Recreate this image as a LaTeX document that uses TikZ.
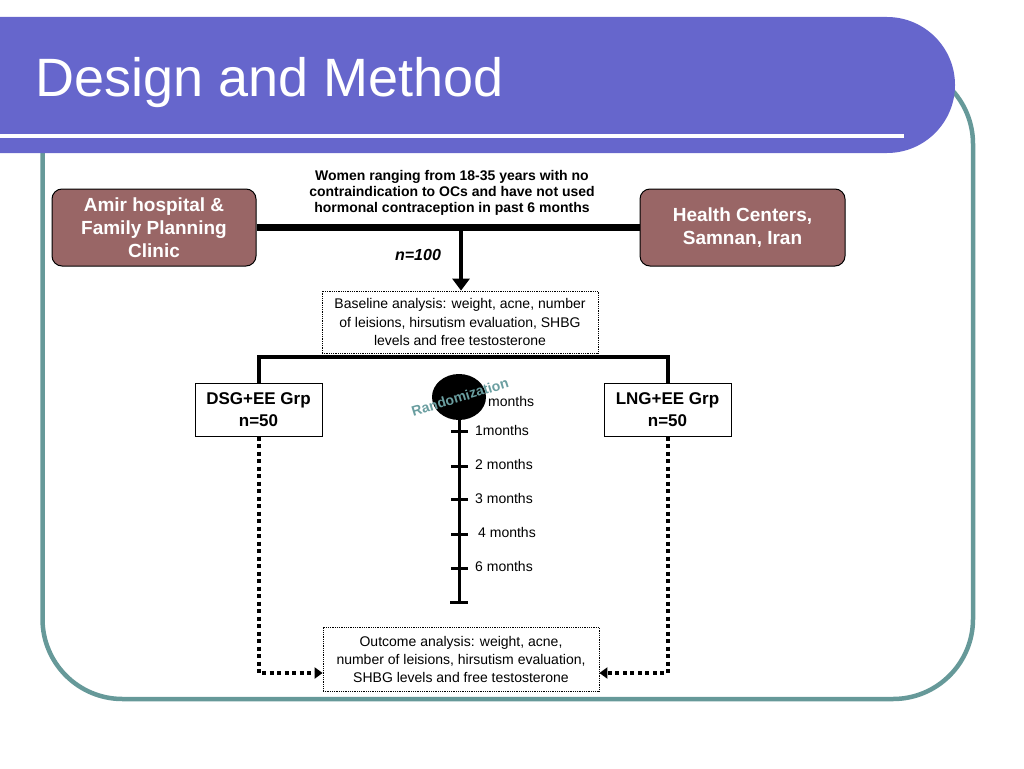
\documentclass[tikz,border=0pt]{standalone}
\usepackage{fontspec}
\setmainfont{Liberation Sans}
\usetikzlibrary{arrows.meta,shapes.geometric}
\definecolor{barblue}{HTML}{6666CC}
\definecolor{frameteal}{HTML}{669999}
\definecolor{boxbrown}{HTML}{996666}
\definecolor{randteal}{HTML}{6A9EA0}
\newcommand\fsz[2]{\fontsize{#1}{#2}\selectfont}
\begin{document}
\begin{tikzpicture}[x=1pt,y=-1pt,
  sitebox/.style={draw=black,line width=1pt,fill=boxbrown,rounded corners=10pt,
    minimum width=204pt,minimum height=77pt,inner sep=0pt,text=white,align=center,
    font=\fsz{19}{23}\bfseries},
  grpbox/.style={draw=black,line width=1pt,fill=white,minimum width=127pt,minimum height=53pt,
    inner sep=0pt,align=center,font=\fsz{17}{22}\bfseries},
  anabox/.style={draw=black,line width=0.8pt,densely dotted,minimum width=276pt,inner sep=0pt,
    align=center,font=\fsz{14}{18.5}},
  thick4/.style={line width=4pt},
  dotconn/.style={line width=4pt,dash pattern=on 4pt off 3.5pt,-{Triangle[length=8pt,width=11pt]}},
  tick/.style={line width=3pt},
  mlabel/.style={anchor=west,inner sep=0pt,font=\fsz{14}{16}}]
\useasboundingbox (0,0) rectangle (1024,768);
% frame
\draw[frameteal,line width=4.5pt,rounded corners=80pt] (42.5,64) rectangle (973,699);
% title bar
\fill[barblue] (0,17) -- (887,17) .. controls (924.5,17) and (955,47.5) .. (955,85)
  .. controls (955,122.5) and (924.5,153) .. (887,153) -- (0,153) -- cycle;
\fill[white] (0,134) rectangle (904,138);
\node[anchor=base west,inner sep=0pt,text=white,font=\fsz{54}{60}] (title) at (35,96) {Design and Method};
% sources
\node[sitebox] (amir) at (154,227.5) {Amir hospital \&\\Family Planning\\Clinic};
\node[sitebox,minimum width=205pt] (health) at (742.5,227.5) {Health Centers,\\Samnan, Iran};
\node[align=center,inner sep=0pt,font=\fsz{14}{16}\bfseries] (women) at (452,193)
  {Women ranging from 18-35 years with no\\contraindication to OCs and have not used\\hormonal contraception in past 6 months};
\draw[line width=7pt] (amir.east) -- (health.west);
\coordinate (split) at (461,231);
\node[anchor=center,inner sep=0pt,font=\fsz{16}{18}\bfseries\itshape] (n100) at (418,255) {n=100};
\node[anchor=center,anabox,minimum height=62pt] (base) at (460,322)
  {Baseline analysis: weight, acne, number\\of leisions, hirsutism evaluation, SHBG\\levels and free testosterone};
\draw[thick4,-{Triangle[length=12pt,width=17pt]}] (split) -- (split |- base.north);
% groups
\node[grpbox] (dsg) at (258.5,409.5) {DSG+EE Grp\\n=50};
\node[grpbox] (lng) at (667.5,409.5) {LNG+EE Grp\\n=50};
\draw[thick4] (dsg.north) -- ++(0,-26) -| (lng.north);
% outcome
\node[anabox,minimum height=64pt,font=\fsz{14}{18}] (out) at (461,659)
  {Outcome analysis: weight, acne,\\number of leisions, hirsutism evaluation,\\SHBG levels and free testosterone};
\draw[dotconn] (dsg.south) |- ([yshift=-14pt]out.west);
\draw[dotconn] (lng.south) |- ([yshift=-14pt]out.east);
% timeline
\node[ellipse,fill=black,minimum width=54pt,minimum height=46pt,inner sep=0pt] (rand) at (459,397) {};
\coordinate (tend) at (459,602);
\draw[line width=3pt] (rand.south) -- (tend);
\foreach \ty in {431,466,499,534,568}{\draw[tick] (451,\ty) -- (468,\ty);}
\draw[tick] (450,602) -- (468,602);
\node[mlabel] (m0) at (488,401) {months};
\node[mlabel] (m1) at (475,430) {1months};
\node[mlabel] (m2) at (475,464) {2 months};
\node[mlabel] (m3) at (475,498) {3 months};
\node[mlabel] (m4) at (478,532) {4 months};
\node[mlabel] (m6) at (475,566) {6 months};
\node[rotate=17,inner sep=0pt,text=randteal,font=\fsz{14}{16}\bfseries] (randtxt) at (460,397) {Randomization};
\end{tikzpicture}
\end{document}
